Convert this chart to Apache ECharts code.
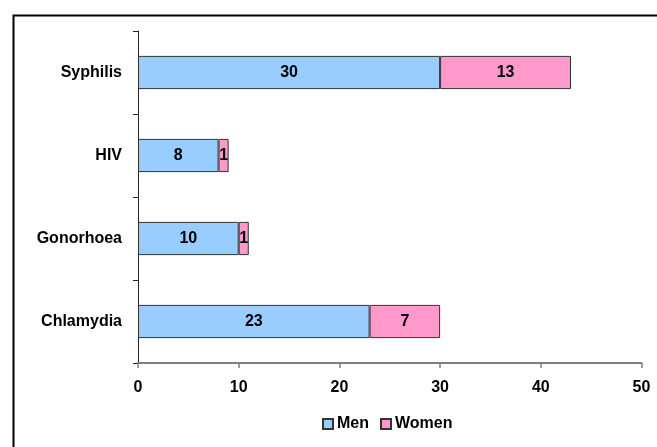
<!DOCTYPE html>
<html>
<head>
<meta charset="utf-8">
<script src="https://cdn.jsdelivr.net/npm/echarts@6/dist/echarts.min.js"></script>
<style>
  html, body { margin: 0; padding: 0; background: #fff; }
  #chart { width: 657px; height: 447px; }
</style>
</head>
<body>
<div id="chart"></div>
<script>
// Infections by sex, stacked horizontally (bottom to top)
const categories = ['Chlamydia', 'Gonorhoea', 'HIV', 'Syphilis'];
const men = [23, 10, 8, 30];
const women = [7, 1, 1, 13];
const xTicks = { min: 0, max: 50, interval: 10 };

const labelFont = {
  fontFamily: 'Liberation Sans, Arial, sans-serif',
  fontWeight: 'bold',
  fontSize: 16,
  color: '#000'
};

const chart = echarts.init(document.getElementById('chart'), null, { renderer: 'canvas' });

chart.setOption({
  animation: false,
  backgroundColor: '#fff',
  graphic: [{
    type: 'rect',
    left: 11,
    top: 13,
    shape: { width: 700, height: 500 },
    style: { fill: 'none', stroke: '#000', lineWidth: 2 },
    silent: true
  }],
  grid: { left: 138, right: 15.5, top: 31, bottom: 84, containLabel: false },
  legend: {
    bottom: 10,
    left: 317,
    icon: 'rect',
    itemWidth: 10,
    itemHeight: 10,
    itemGap: 11,
    textStyle: Object.assign({}, labelFont, { padding: [0, 0, 0, -1] }),
    data: ['Men', 'Women']
  },
  xAxis: {
    type: 'value',
    min: xTicks.min,
    max: xTicks.max,
    interval: xTicks.interval,
    axisLine: { show: true, lineStyle: { color: '#808080', width: 2 } },
    axisTick: { show: true, length: 5, lineStyle: { color: '#808080', width: 1.5 } },
    axisLabel: Object.assign({}, labelFont, { margin: 17 }),
    splitLine: { show: false }
  },
  yAxis: {
    type: 'category',
    data: categories,
    axisLine: { show: true, lineStyle: { color: '#222', width: 1 } },
    axisTick: { show: true, length: 5, lineStyle: { color: '#222' } },
    axisLabel: Object.assign({}, labelFont, { margin: 16 }),
    splitLine: { show: false }
  },
  series: [
    {
      name: 'Men',
      type: 'bar',
      stack: 'total',
      data: men,
      barCategoryGap: '60%',
      itemStyle: { color: '#99CCFF', borderColor: '#333', borderWidth: 1 },
      label: Object.assign({ show: true, position: 'inside' }, labelFont)
    },
    {
      name: 'Women',
      type: 'bar',
      stack: 'total',
      data: women,
      barCategoryGap: '60%',
      itemStyle: { color: '#FF99CC', borderColor: '#333', borderWidth: 1 },
      label: Object.assign({ show: true, position: 'inside' }, labelFont)
    }
  ]
});
</script>
</body>
</html>
